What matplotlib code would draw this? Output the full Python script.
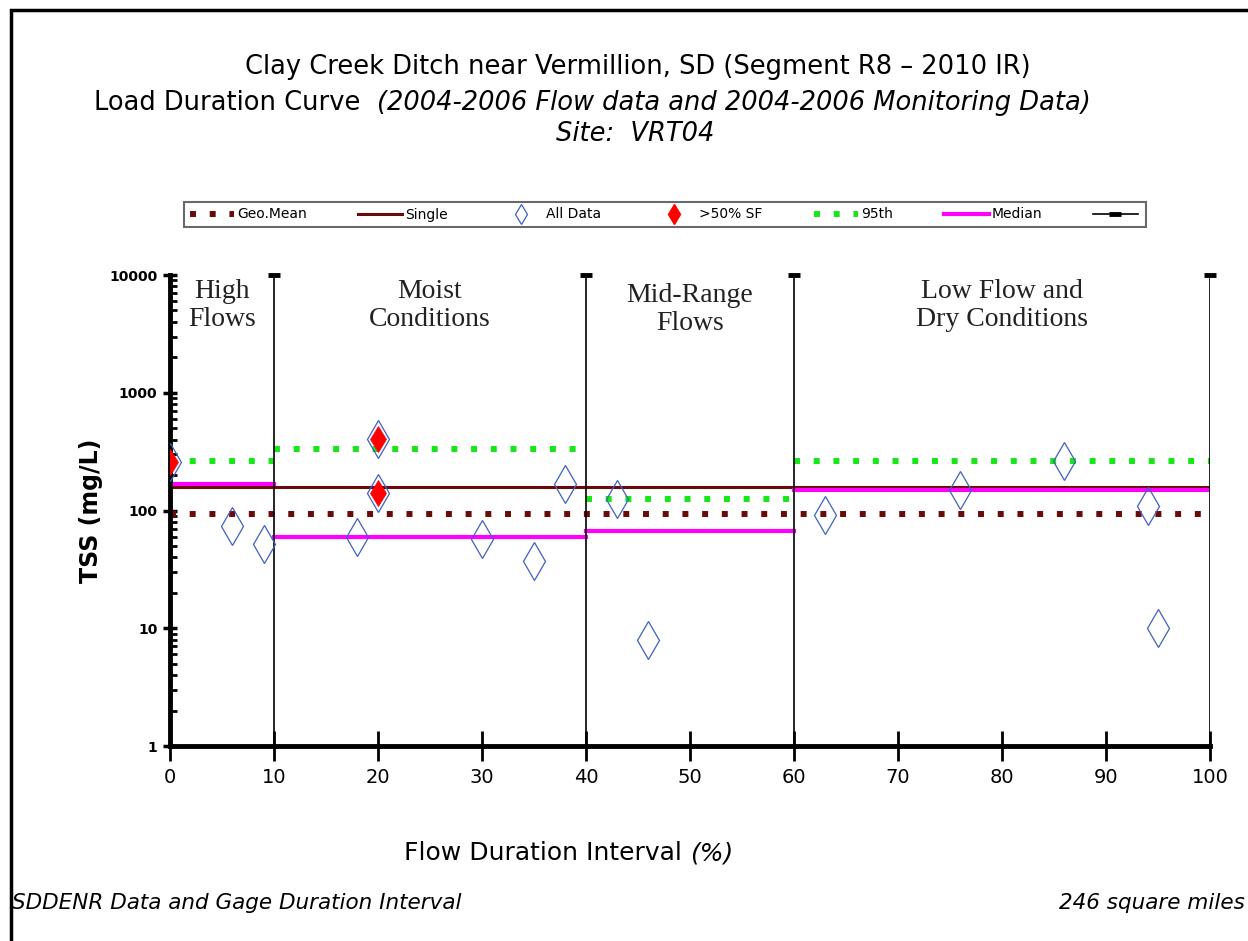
import numpy as np
import matplotlib
matplotlib.use('Agg')
import matplotlib.pyplot as plt
from matplotlib.lines import Line2D
from matplotlib.patches import Rectangle

# all samples (flow duration %, TSS mg/L)
all_x = [0, 6, 9, 18, 20, 20, 30, 35, 38, 43, 46, 63, 76, 86, 94, 95]
all_y = [258, 74, 52, 60, 405, 141, 57, 37, 168, 125, 7.9, 91, 150, 265, 109, 10]

# samples collected at >50% storm flow
sf_x = [0, 20, 20]
sf_y = [258, 405, 141]

# zone edges and per-zone statistics
zone_edges = [0, 10, 40, 60, 100]
p95 = [261, 330, 124, 261]
median = [168, 60, 67, 150]
geo_mean = 93
single = 157

zone_names = ['High\nFlows', 'Moist\nConditions', 'Mid-Range\nFlows', 'Low Flow and\nDry Conditions']
zone_label_x = [5, 25, 50, 80]

fig = plt.figure(figsize=(12.48, 9.41), dpi=100)
ax = fig.add_axes([170 / 1248, 1 - 746 / 941, 1040 / 1248, 471 / 941])

maroon = '#6b0a0a'
green = '#19e619'
magenta = '#ff00ff'
blue = '#4060c0'

# geo mean and single sample criteria
ax.plot([0, 100], [geo_mean, geo_mean], color=maroon, lw=4.3,
        linestyle=(0, (1, 2.3)), dash_capstyle='butt', label='Geo.Mean')
ax.plot([0, 100], [single, single], color=maroon, lw=2.2, label='Single')

# zone statistics
for i in range(len(p95)):
    x0, x1 = zone_edges[i], zone_edges[i + 1]
    ax.plot([x0, x1], [p95[i], p95[i]], color=green, lw=4.3,
            linestyle=(0, (1, 2.3)), dash_capstyle='butt',
            label='95th' if i == 0 else None)
    ax.plot([x0, x1], [median[i], median[i]], color=magenta, lw=3,
            label='Median' if i == 0 else None)

ax.plot(all_x, all_y, linestyle='none', marker='d', markersize=19,
        markerfacecolor='none', markeredgecolor=blue, markeredgewidth=0.9,
        label='All Data', zorder=4)
ax.plot(sf_x, sf_y, linestyle='none', marker='d', markersize=13,
        markerfacecolor='red', markeredgecolor='red', markeredgewidth=0.5,
        label='>50% SF', zorder=5)

# zone boundaries
for xb in zone_edges[1:]:
    ax.plot([xb, xb], [1, 10000], color='black', lw=1.2, zorder=3)
    ax.plot([xb], [10000], marker='_', markersize=8, mew=3.5, color='black',
            clip_on=False, zorder=3)

for name, xl in zip(zone_names, zone_label_x):
    y_top = 8500 if name.startswith('Mid') else 9300
    ax.text(xl, y_top, name, ha='center', va='top', fontsize=20,
            family='Liberation Serif', color='#222222', linespacing=1.15)

ax.set_yscale('log')
ax.set_xlim(0, 100)
ax.set_ylim(1, 10000)
ax.set_xticks(np.arange(0, 101, 10))
ax.set_yticks([1, 10, 100, 1000, 10000])
ax.set_yticklabels(['1', '10', '100', '1000', '10000'], fontsize=10, fontweight='bold')
ax.set_xticklabels([str(v) for v in range(0, 101, 10)], fontsize=14)
ax.tick_params(axis='x', direction='inout', length=22, width=2, pad=5)
ax.tick_params(axis='y', which='major', direction='inout', length=10, width=2.5, pad=4)
ax.tick_params(axis='y', which='minor', direction='in', length=5, width=2)
ax.spines['top'].set_visible(False)
ax.spines['right'].set_visible(False)
ax.spines['left'].set_linewidth(3.5)
ax.spines['bottom'].set_linewidth(3.5)

ax.set_ylabel('TSS (mg/L)', fontsize=17, fontweight='bold')
ax.yaxis.set_label_coords(-0.064, 0.5)
fig.text(0.553, 1 - 853 / 941, 'Flow Duration Interval ', ha='right', va='center',
         fontsize=18)
fig.text(0.553, 1 - 853 / 941, '(%)', ha='left', va='center', fontsize=18, style='italic')

# titles
fig.text(0.511, 1 - 67 / 941, 'Clay Creek Ditch near Vermillion, SD (Segment R8 \u2013 2010 IR)',
         ha='center', va='center', fontsize=18.5)
fig.text(0.302, 1 - 103 / 941, 'Load Duration Curve  ', ha='right', va='center', fontsize=18.5)
fig.text(0.302, 1 - 103 / 941, '(2004-2006 Flow data and 2004-2006 Monitoring Data)',
         ha='left', va='center', fontsize=18.5, style='italic')
fig.text(0.509, 1 - 134 / 941, 'Site:  VRT04', ha='center', va='center', fontsize=18.5,
         style='italic')

# footer
fig.text(12 / 1248, 1 - 903 / 941, 'SDDENR Data and Gage Duration Interval', ha='left',
         va='center', fontsize=15.5, style='italic')
fig.text(1245 / 1248, 1 - 903 / 941, '246 square miles', ha='right', va='center',
         fontsize=15.5, style='italic')

# legend
handles, labels = ax.get_legend_handles_labels()
order = ['Geo.Mean', 'Single', 'All Data', '>50% SF', '95th', 'Median']
h = [handles[labels.index(o)] for o in order]
h[2] = Line2D([], [], linestyle='none', marker='d', markersize=10, markerfacecolor='none',
              markeredgecolor=blue, markeredgewidth=0.9)
h[3] = Line2D([], [], linestyle='none', marker='d', markersize=10, color='red')
h.append(Line2D([], [], color='black', lw=1.2, marker='_', markersize=8, mew=3.5))
lab = order + ['']
leg = fig.legend(h, lab, ncol=7, loc='center', mode='expand',
                 bbox_to_anchor=(184 / 1248, 1 - 248 / 941, 962 / 1248, 67 / 941),
                 frameon=True, fancybox=False, edgecolor='#444444', fontsize=10,
                 handlelength=3.2, handletextpad=0.2, borderaxespad=0)
leg.get_frame().set_linewidth(1.5)

# outer border
fig.patches.append(Rectangle((11 / 1248, -0.05), 1.2, 1 - 10 / 941 + 0.05, transform=fig.transFigure,
                             fill=False, edgecolor='black', lw=2.5))

fig.savefig('out.png', dpi=100)
